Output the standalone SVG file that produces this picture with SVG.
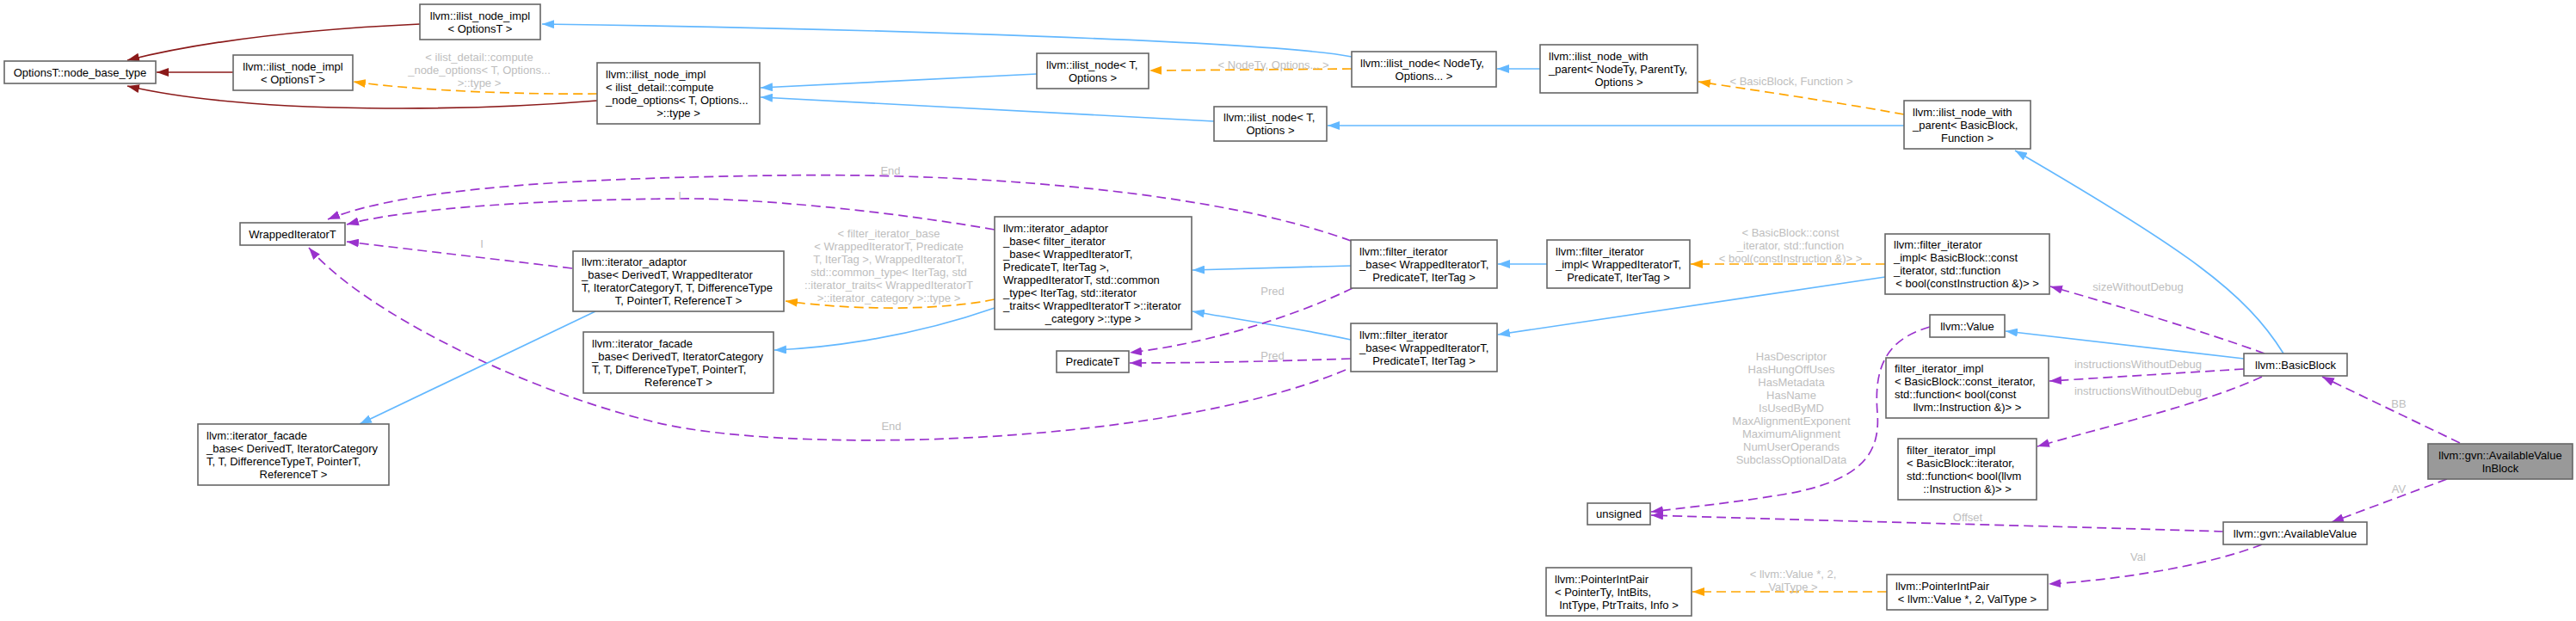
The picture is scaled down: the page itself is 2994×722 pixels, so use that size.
<svg xmlns="http://www.w3.org/2000/svg" width="2994" height="722" viewBox="0 0 2994 722">
<style>
text{font-family:"Liberation Sans",Arial,sans-serif;font-size:13px;fill:#000}
.m{text-anchor:middle}
.lbl{fill:#bebebe;text-anchor:middle}
.n rect{fill:#fff;stroke:#666;stroke-width:1.6}
#n24 rect{fill:#999;stroke:#666}
.e path{fill:none;stroke-width:1.7}
.b{stroke:#63b8ff;marker-end:url(#aB)}
.r{stroke:#8b1a1a;marker-end:url(#aR)}
.o{stroke:#ffa500;stroke-dasharray:11,6;marker-end:url(#aO)}
.p{stroke:#9a32cd;stroke-dasharray:11,6;marker-end:url(#aP)}
</style>
<defs>
<marker id="aB" markerUnits="userSpaceOnUse" viewBox="0 0 14 10" refX="14" refY="5" markerWidth="14" markerHeight="10" orient="auto"><path d="M0,0L14,5L0,10z" fill="#63b8ff"/></marker>
<marker id="aR" markerUnits="userSpaceOnUse" viewBox="0 0 14 10" refX="14" refY="5" markerWidth="14" markerHeight="10" orient="auto"><path d="M0,0L14,5L0,10z" fill="#8b1a1a"/></marker>
<marker id="aO" markerUnits="userSpaceOnUse" viewBox="0 0 14 10" refX="14" refY="5" markerWidth="14" markerHeight="10" orient="auto"><path d="M0,0L14,5L0,10z" fill="#ffa500"/></marker>
<marker id="aP" markerUnits="userSpaceOnUse" viewBox="0 0 14 10" refX="14" refY="5" markerWidth="14" markerHeight="10" orient="auto"><path d="M0,0L14,5L0,10z" fill="#9a32cd"/></marker>
</defs>
<rect width="2994" height="722" fill="#fff"/>
<g id="edges" class="e">
<path class="r" d="M488,28 C400,32 260,42 148,70"/>
<path class="r" d="M271,84 L182,84"/>
<path class="r" d="M694,117 C560,128 300,135 148,100"/>
<path class="o" d="M694,109 C600,110 480,105 411,95"/>
<path class="b" d="M1571,66 C1480,48 1000,33 630,28"/>
<path class="b" d="M1205,86 L884,102"/>
<path class="b" d="M1411,141 L884,113"/>
<path class="o" d="M1571,80 L1336,82"/>
<path class="b" d="M1790,80 L1740,80"/>
<path class="b" d="M2213,146 L1543,146"/>
<path class="o" d="M2213,133 C2130,118 2040,105 1974,95"/>
<path class="b" d="M2654,411 C2610,340 2540,290 2342,175"/>
<path class="b" d="M2608,417 L2331,385"/>
<path class="p" d="M2632,411 C2560,385 2460,355 2383,333"/>
<path class="p" d="M2608,429 L2382,443"/>
<path class="p" d="M2629,438 C2560,470 2450,495 2368,519"/>
<path class="p" d="M2859,515 L2699,438"/>
<path class="p" d="M2844,557 L2710,607"/>
<path class="p" d="M2584,618 C2400,612 2100,605 1919,599"/>
<path class="p" d="M2629,633 C2560,660 2450,675 2381,679"/>
<path class="o" d="M2193,688 L1967,688"/>
<path class="p" d="M2243,380 C2190,395 2178,430 2182,480 C2186,530 2160,560 2072,575 C2010,585 1960,590 1919,595"/>
<path class="b" d="M1798,307 L1741,307"/>
<path class="o" d="M2191,307 L1965,307"/>
<path class="b" d="M2191,322 L1741,389"/>
<path class="b" d="M1570,309 L1386,314"/>
<path class="b" d="M1570,395 C1500,380 1430,370 1386,362"/>
<path class="p" d="M1572,335 C1500,370 1400,400 1313,410"/>
<path class="p" d="M1570,417 C1480,420 1400,422 1313,422"/>
<path class="p" d="M1564,430 C1350,520 900,530 750,488 C600,450 420,360 359,288"/>
<path class="p" d="M1570,280 C1420,225 1150,200 900,204 C700,207 480,215 381,255"/>
<path class="p" d="M1156,267 C1000,240 850,230 790,231 C650,232 480,240 403,261"/>
<path class="p" d="M665,312 L403,281"/>
<path class="o" d="M1156,348 C1100,360 1000,362 913,350"/>
<path class="b" d="M1156,358 C1050,395 950,405 900,407"/>
<path class="b" d="M692,362 L418,493"/>
</g>
<g id="labels">
<text class="lbl" x="557" y="70.5">&lt; ilist_detail::compute</text>
<text class="lbl" x="557" y="85.5">_node_options&lt; T, Options...</text>
<text class="lbl" x="557" y="100.5">&gt;::type &gt;</text>
<text class="lbl" x="1480" y="79.5">&lt; NodeTy, Options... &gt;</text>
<text class="lbl" x="2082" y="98.5">&lt; BasicBlock, Function &gt;</text>
<text class="lbl" x="2081" y="274.5">&lt; BasicBlock::const</text>
<text class="lbl" x="2081" y="289.5">_iterator, std::function</text>
<text class="lbl" x="2081" y="304.5">&lt; bool(constInstruction &amp;)&gt; &gt;</text>
<text class="lbl" x="2082" y="418.5">HasDescriptor</text>
<text class="lbl" x="2082" y="433.5">HasHungOffUses</text>
<text class="lbl" x="2082" y="448.5">HasMetadata</text>
<text class="lbl" x="2082" y="463.5">HasName</text>
<text class="lbl" x="2082" y="478.5">IsUsedByMD</text>
<text class="lbl" x="2082" y="493.5">MaxAlignmentExponent</text>
<text class="lbl" x="2082" y="508.5">MaximumAlignment</text>
<text class="lbl" x="2082" y="523.5">NumUserOperands</text>
<text class="lbl" x="2082" y="538.5">SubclassOptionalData</text>
<text class="lbl" x="2485" y="337.5">sizeWithoutDebug</text>
<text class="lbl" x="2485" y="427.5">instructionsWithoutDebug</text>
<text class="lbl" x="2485" y="458.5">instructionsWithoutDebug</text>
<text class="lbl" x="2788" y="473.5">BB</text>
<text class="lbl" x="2788" y="572.5">AV</text>
<text class="lbl" x="2287" y="605.5">Offset</text>
<text class="lbl" x="2485" y="651.5">Val</text>
<text class="lbl" x="2084" y="671.5">&lt; llvm::Value *, 2,</text>
<text class="lbl" x="2084" y="686.5">ValType &gt;</text>
<text class="lbl" x="1033" y="275.5">&lt; filter_iterator_base</text>
<text class="lbl" x="1033" y="290.5">&lt; WrappedIteratorT, Predicate</text>
<text class="lbl" x="1033" y="305.5">T, IterTag &gt;, WrappedIteratorT,</text>
<text class="lbl" x="1033" y="320.5">std::common_type&lt; IterTag, std</text>
<text class="lbl" x="1033" y="335.5">::iterator_traits&lt; WrappedIteratorT</text>
<text class="lbl" x="1033" y="350.5">&gt;::iterator_category &gt;::type &gt;</text>
<text class="lbl" x="1479" y="342.5">Pred</text>
<text class="lbl" x="1479" y="417.5">Pred</text>
<text class="lbl" x="1035" y="202.5">End</text>
<text class="lbl" x="1036" y="499.5">End</text>
<text class="lbl" x="790" y="231.5">I</text>
<text class="lbl" x="560" y="287.5">I</text>
</g>
<g id="n1" class="n"><rect x="5" y="71" width="176" height="26"/><text class="m" x="93" y="88.5">OptionsT::node_base_type</text></g>
<g id="n2" class="n"><rect x="488" y="5" width="140" height="41"/><text class="m" x="558" y="22.5">llvm::ilist_node_impl</text><text class="m" x="558" y="37.5">&lt; OptionsT &gt;</text></g>
<g id="n3" class="n"><rect x="271" y="64" width="139" height="41"/><text class="m" x="340.5" y="81.5">llvm::ilist_node_impl</text><text class="m" x="340.5" y="96.5">&lt; OptionsT &gt;</text></g>
<g id="n4" class="n"><rect x="694" y="73" width="189" height="71"/><text x="704" y="90.5">llvm::ilist_node_impl</text><text x="704" y="105.5">&lt; ilist_detail::compute</text><text x="704" y="120.5">_node_options&lt; T, Options...</text><text class="m" x="788.5" y="135.5">&gt;::type &gt;</text></g>
<g id="n5" class="n"><rect x="1205" y="62" width="130" height="41"/><text x="1216" y="79.5">llvm::ilist_node&lt; T,</text><text class="m" x="1270" y="94.5">Options &gt;</text></g>
<g id="n6" class="n"><rect x="1571" y="60" width="168" height="41"/><text x="1581" y="77.5">llvm::ilist_node&lt; NodeTy,</text><text class="m" x="1655" y="92.5">Options... &gt;</text></g>
<g id="n7" class="n"><rect x="1790" y="52" width="183" height="56"/><text x="1800" y="69.5">llvm::ilist_node_with</text><text x="1800" y="84.5">_parent&lt; NodeTy, ParentTy,</text><text class="m" x="1881.5" y="99.5">Options &gt;</text></g>
<g id="n8" class="n"><rect x="1411" y="124" width="131" height="40"/><text x="1422" y="141">llvm::ilist_node&lt; T,</text><text class="m" x="1476.5" y="156">Options &gt;</text></g>
<g id="n9" class="n"><rect x="2213" y="117" width="147" height="56"/><text x="2223" y="134.5">llvm::ilist_node_with</text><text x="2223" y="149.5">_parent&lt; BasicBlock,</text><text class="m" x="2286.5" y="164.5">Function &gt;</text></g>
<g id="n10" class="n"><rect x="279" y="259" width="122" height="26"/><text class="m" x="340" y="276.5">WrappedIteratorT</text></g>
<g id="n11" class="n"><rect x="666" y="292" width="245" height="70"/><text x="676" y="309">llvm::iterator_adaptor</text><text x="676" y="324">_base&lt; DerivedT, WrappedIterator</text><text x="676" y="339">T, IteratorCategoryT, T, DifferenceType</text><text class="m" x="788.5" y="354">T, PointerT, ReferenceT &gt;</text></g>
<g id="n12" class="n"><rect x="678" y="386" width="221" height="71"/><text x="688" y="403.5">llvm::iterator_facade</text><text x="688" y="418.5">_base&lt; DerivedT, IteratorCategory</text><text x="688" y="433.5">T, T, DifferenceTypeT, PointerT,</text><text class="m" x="788.5" y="448.5">ReferenceT &gt;</text></g>
<g id="n13" class="n"><rect x="230" y="493" width="222" height="71"/><text x="240" y="510.5">llvm::iterator_facade</text><text x="240" y="525.5">_base&lt; DerivedT, IteratorCategory</text><text x="240" y="540.5">T, T, DifferenceTypeT, PointerT,</text><text class="m" x="341" y="555.5">ReferenceT &gt;</text></g>
<g id="n14" class="n"><rect x="1156" y="252" width="229" height="131"/><text x="1166" y="269.5">llvm::iterator_adaptor</text><text x="1166" y="284.5">_base&lt; filter_iterator</text><text x="1166" y="299.5">_base&lt; WrappedIteratorT,</text><text x="1166" y="314.5">PredicateT, IterTag &gt;,</text><text x="1166" y="329.5">WrappedIteratorT, std::common</text><text x="1166" y="344.5">_type&lt; IterTag, std::iterator</text><text x="1166" y="359.5">_traits&lt; WrappedIteratorT &gt;::iterator</text><text class="m" x="1270.5" y="374.5">_category &gt;::type &gt;</text></g>
<g id="n15" class="n"><rect x="1570" y="279" width="170" height="56"/><text x="1580" y="296.5">llvm::filter_iterator</text><text x="1580" y="311.5">_base&lt; WrappedIteratorT,</text><text class="m" x="1655" y="326.5">PredicateT, IterTag &gt;</text></g>
<g id="n16" class="n"><rect x="1570" y="376" width="170" height="56"/><text x="1580" y="393.5">llvm::filter_iterator</text><text x="1580" y="408.5">_base&lt; WrappedIteratorT,</text><text class="m" x="1655" y="423.5">PredicateT, IterTag &gt;</text></g>
<g id="n17" class="n"><rect x="1798" y="279" width="166" height="56"/><text x="1808" y="296.5">llvm::filter_iterator</text><text x="1808" y="311.5">_impl&lt; WrappedIteratorT,</text><text class="m" x="1881" y="326.5">PredicateT, IterTag &gt;</text></g>
<g id="n18" class="n"><rect x="2191" y="272" width="191" height="70"/><text x="2201" y="289">llvm::filter_iterator</text><text x="2201" y="304">_impl&lt; BasicBlock::const</text><text x="2201" y="319">_iterator, std::function</text><text class="m" x="2286.5" y="334">&lt; bool(constInstruction &amp;)&gt; &gt;</text></g>
<g id="n19" class="n"><rect x="1228" y="408" width="84" height="25"/><text class="m" x="1270" y="425">PredicateT</text></g>
<g id="n20" class="n"><rect x="2243" y="366" width="87" height="26"/><text class="m" x="2286.5" y="383.5">llvm::Value</text></g>
<g id="n21" class="n"><rect x="2608" y="411" width="120" height="26"/><text class="m" x="2668" y="428.5">llvm::BasicBlock</text></g>
<g id="n22" class="n"><rect x="2192" y="416" width="189" height="70"/><text x="2202" y="433">filter_iterator_impl</text><text x="2202" y="448">&lt; BasicBlock::const_iterator,</text><text x="2202" y="463">std::function&lt; bool(const</text><text class="m" x="2286.5" y="478">llvm::Instruction &amp;)&gt; &gt;</text></g>
<g id="n23" class="n"><rect x="2206" y="510" width="161" height="71"/><text x="2216" y="527.5">filter_iterator_impl</text><text x="2216" y="542.5">&lt; BasicBlock::iterator,</text><text x="2216" y="557.5">std::function&lt; bool(llvm</text><text class="m" x="2286.5" y="572.5">::Instruction &amp;)&gt; &gt;</text></g>
<g id="n24" class="n"><rect x="2822" y="516" width="168" height="41"/><text class="m" x="2906" y="533.5">llvm::gvn::AvailableValue</text><text class="m" x="2906" y="548.5">InBlock</text></g>
<g id="n25" class="n"><rect x="1845" y="585" width="73" height="25"/><text class="m" x="1881.5" y="602">unsigned</text></g>
<g id="n26" class="n"><rect x="2584" y="607" width="167" height="26"/><text class="m" x="2667.5" y="624.5">llvm::gvn::AvailableValue</text></g>
<g id="n27" class="n"><rect x="1797" y="660" width="169" height="56"/><text x="1807" y="677.5">llvm::PointerIntPair</text><text x="1807" y="692.5">&lt; PointerTy, IntBits,</text><text class="m" x="1881.5" y="707.5">IntType, PtrTraits, Info &gt;</text></g>
<g id="n28" class="n"><rect x="2193" y="668" width="187" height="41"/><text x="2203" y="685.5">llvm::PointerIntPair</text><text class="m" x="2286.5" y="700.5">&lt; llvm::Value *, 2, ValType &gt;</text></g>
</svg>
